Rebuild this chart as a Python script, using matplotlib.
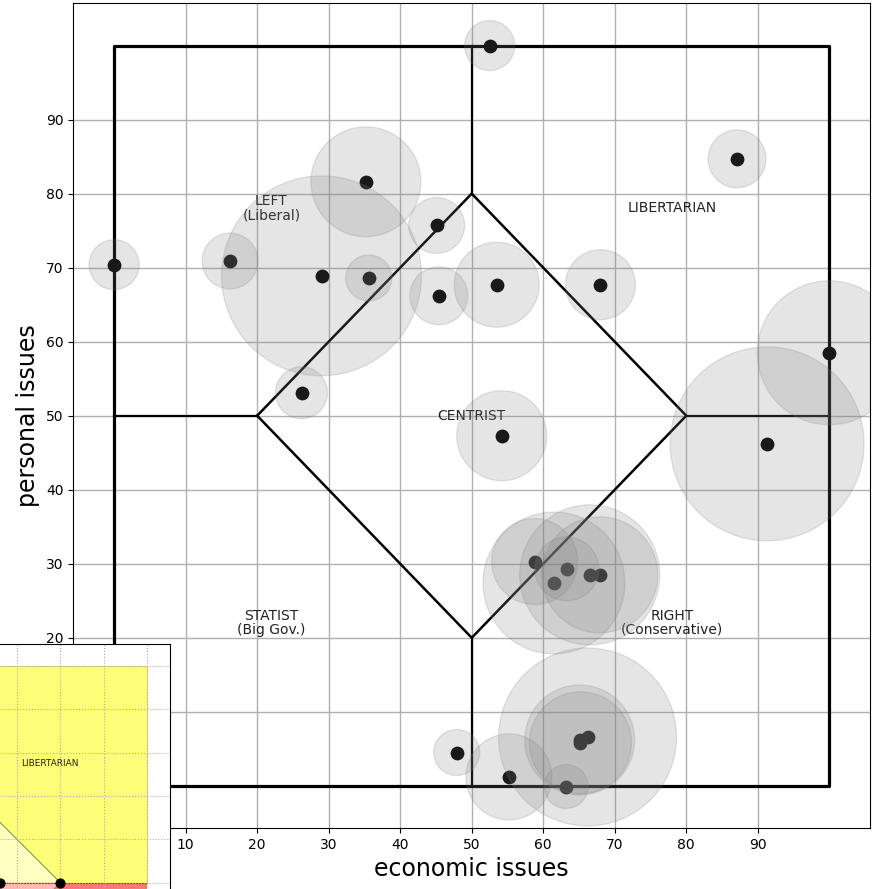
import numpy as np
import matplotlib.pyplot as plt
from matplotlib.patches import Polygon, Rectangle

# candidate positions on the two axes, plus how much support each one has
economic = np.array([0.0, 16.2, 29.0, 35.2, 35.6, 45.1, 45.4, 53.5, 68.0, 52.5,
                     87.1, 100.0, 91.3, 26.2, 54.2, 58.8, 63.3, 61.5, 66.5, 67.9,
                     47.9, 55.2, 63.2, 66.2, 65.1, 65.2])
personal = np.array([70.4, 70.9, 68.9, 81.6, 68.6, 75.7, 66.2, 67.7, 67.7, 100.0,
                     84.7, 58.5, 46.2, 53.1, 47.3, 30.3, 29.3, 27.4, 28.5, 28.5,
                     4.5, 1.2, -0.1, 6.6, 6.2, 5.8])
support = np.array([65, 81, 1036, 313, 55, 81, 87, 187, 127, 65,
                    87, 537, 975, 70, 210, 192, 106, 522, 508, 349,
                    55, 192, 50, 821, 313, 270])

region_names = ['LEFT\n(Liberal)', 'LIBERTARIAN', 'CENTRIST',
                'STATIST\n(Big Gov.)', 'RIGHT\n(Conservative)']
region_x = [22, 78, 50, 22, 78]
region_y = [78, 78, 50, 22, 22]

# second small chart: two placements on the same grid
small_x = [66, 80]
small_y = [50, 50]

fig = plt.figure(figsize=(8.8, 8.89), dpi=100)
ax = fig.add_axes([0.083, 0.0686, 0.9057, 0.928])

ax.set_xlim(-5.75, 105.7)
ax.set_ylim(-5.7, 105.75)
ax.set_xticks(range(10, 100, 10))
ax.set_yticks(range(10, 100, 10))
ax.grid(True, color='#b0b0b0', lw=1.0)
ax.set_axisbelow(True)
ax.tick_params(labelsize=10)
ax.set_xlabel('economic issues', fontsize=17)
ax.set_ylabel('personal issues', fontsize=17)

# nolan chart outline
ax.plot([0, 100, 100, 0, 0], [0, 0, 100, 100, 0], color='k', lw=2.3)
ax.plot([20, 50, 80, 50, 20], [50, 80, 50, 20, 50], color='k', lw=1.8)
ax.plot([0, 20], [50, 50], color='k', lw=1.6)
ax.plot([80, 100], [50, 50], color='k', lw=1.6)
ax.plot([50, 50], [80, 100], color='k', lw=1.6)
ax.plot([50, 50], [0, 20], color='k', lw=1.6)

for name, tx, ty in zip(region_names, region_x, region_y):
    ax.text(tx, ty, name, ha='center', va='center', fontsize=10, color='#222222',
            linespacing=1.0)

ax.scatter(economic, personal, s=80, color='k', zorder=3)
ax.scatter(economic, personal, s=support * 20, color='gray', alpha=0.2,
           linewidths=1.0, zorder=4)

# small overlapping chart in the lower left corner
ax2 = fig.add_axes([-0.3515, -0.2615, 0.5447, 0.5371], zorder=5)
ax2.set_xlim(-5.3, 105.3)
ax2.set_ylim(-5.1, 105.1)
ax2.set_xticks(range(0, 101, 10))
ax2.set_yticks(range(0, 101, 10))
ax2.tick_params(labelleft=False, labelbottom=False, length=0)
ax2.grid(True, color='#aaaaaa', ls=':', lw=0.8)
ax2.set_axisbelow(False)
for sp in ax2.spines.values():
    sp.set_linewidth(0.8)

ax2.add_patch(Rectangle((50, 50), 50, 50, facecolor='#ffff77',
                        edgecolor='#d8d860', lw=0.6, zorder=1))
ax2.add_patch(Rectangle((50, 0), 50, 50, facecolor='#ff7777',
                        edgecolor='none', zorder=1))
ax2.add_patch(Polygon([(50, 50), (50, 80), (80, 50)], facecolor='#ffffbf',
                      edgecolor='none', zorder=1.1))
ax2.add_patch(Polygon([(50, 50), (80, 50), (50, 20)], facecolor='#ffbbbb',
                      edgecolor='none', zorder=1.1))
ax2.plot([50, 80, 50], [80, 50, 20], color='#8f8f66', lw=0.8, zorder=2)
ax2.plot([50, 100], [50, 50], color='#555555', lw=0.8, zorder=2)
ax2.scatter(small_x, small_y, s=40, color='k', zorder=3)
ax2.text(77.5, 77.5, 'LIBERTARIAN', ha='center', va='center', fontsize=6.5,
         color='#222222')

fig.savefig('out.png', dpi=100)
